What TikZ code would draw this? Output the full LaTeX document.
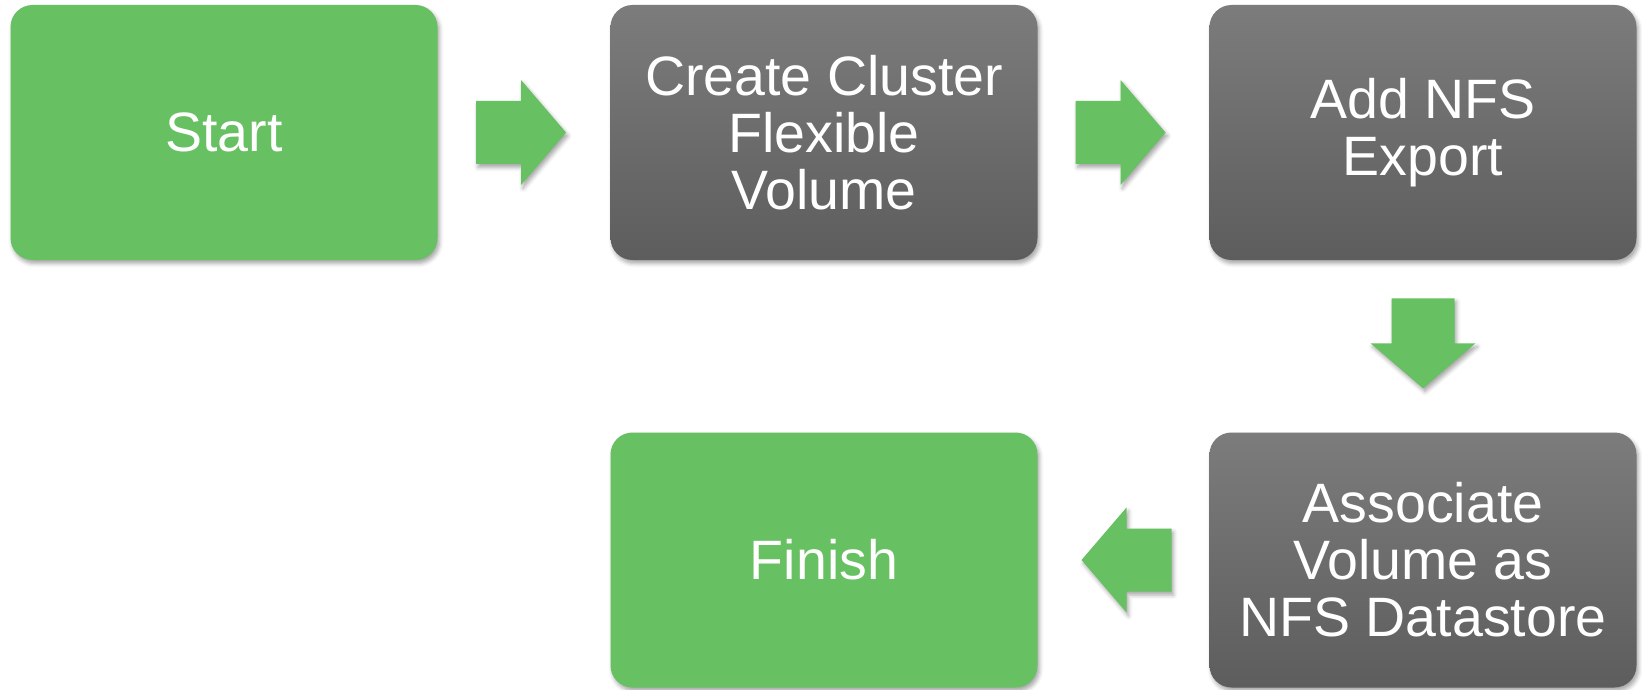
\documentclass[tikz,border=0pt]{standalone}
\usepackage{fontspec}
\setmainfont{Liberation Sans}
\usetikzlibrary{calc,shadows.blur}
\definecolor{stepgreen}{RGB}{103,192,98}
\definecolor{graytop}{RGB}{124,124,124}
\definecolor{graybot}{RGB}{93,93,93}
\tikzset{
  softshadow/.style={blur shadow={shadow xshift=2pt, shadow yshift=-3.5pt,
      shadow blur radius=4pt, shadow opacity=35}},
  box/.style={rounded corners=22pt, minimum width=427pt, minimum height=255pt,
      inner sep=0pt, align=center, text=white,
      font=\fontsize{55.5}{57}\selectfont, softshadow},
  greenbox/.style={box, fill=stepgreen},
  graybox/.style={box, top color=graytop, bottom color=graybot},
  pics/blockarrow/.style={code={
      \fill[stepgreen, softshadow]
        (-48,31.5) -- (-3,31.5) -- (-3,52.5) -- (42,0) -- (-3,-52.5)
        -- (-3,-31.5) -- (-48,-31.5) -- cycle;}}
}
\begin{document}
\begin{tikzpicture}[x=1pt, y=1pt]
  \useasboundingbox (0,0) rectangle (1642,-690);

  % process steps
  \node[greenbox] (start)  at (224,-132.5)  {Start};
  \node[graybox]  (create) at (824,-132.5)  {Create Cluster\\Flexible\\Volume};
  \node[graybox]  (nfs)    at (1423,-132.5) {Add NFS\\Export};
  \node[graybox]  (assoc)  at (1423,-560)   {Associate\\Volume as\\NFS Datastore};
  \node[greenbox] (finish) at (824,-560)    {Finish};

  % block arrows between the steps
  \coordinate (a1) at ($(start.east)!0.5!(create.west)$);
  \coordinate (a2) at ($(create.east)!0.5!(nfs.west)$);
  \coordinate (a3) at ($(nfs.south)!0.5!(assoc.north)$);
  \coordinate (a4) at ($(assoc.west)!0.5!(finish.east)$);
  \pic at (a1) {blockarrow};
  \pic at (a2) {blockarrow};
  \pic[rotate=-90] at (a3) {blockarrow};
  \pic[rotate=180] at (a4) {blockarrow};
\end{tikzpicture}
\end{document}
